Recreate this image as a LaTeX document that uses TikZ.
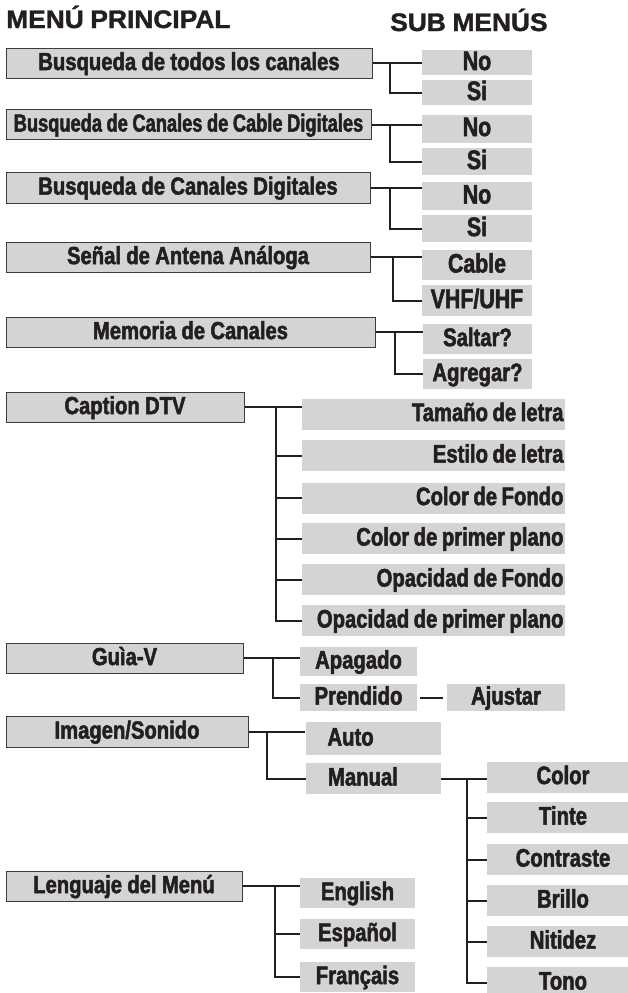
\documentclass[tikz,border=0pt]{standalone}
\usepackage{fontspec}
\newfontfamily\headfont{Liberation Sans}[FakeStretch=1.04, FakeBold=1.4, WordSpace=0.9]
\newfontfamily\menufont{Liberation Sans}[FakeStretch=0.82, FakeBold=2, WordSpace=0.95]
\newfontfamily\tightfont{Liberation Sans}[FakeStretch=0.74, FakeBold=2, WordSpace=0.9]
\newfontfamily\subfont{Liberation Sans}[FakeStretch=0.80, FakeBold=2, WordSpace=0.8]
\definecolor{boxgray}{HTML}{D4D4D6}
\definecolor{edgegray}{HTML}{3C3C3C}
\definecolor{ink}{HTML}{231F20}
\tikzset{
  head/.style={text=ink, inner sep=0pt, font=\headfont\bfseries\fontsize{19}{19}\selectfont},
  mainbox/.style={draw=edgegray, line width=0.75pt, fill=boxgray, inner sep=0pt,
    minimum height=22.5pt, text height=13.2pt, text depth=2.6pt, text=ink,
    font=\menufont\bfseries\fontsize{18.5}{18.5}\selectfont},
  subbox/.style={fill=boxgray, inner sep=0pt, text height=13.6pt, text depth=3pt, text=ink,
    font=\subfont\bfseries\fontsize{19}{19}\selectfont},
  bigsub/.style={subbox, text height=14.3pt, font=\subfont\bfseries\fontsize{20}{20}\selectfont},
  capbox/.style={subbox, inner xsep=1.1pt,
    execute at begin node={\hbox to 195pt\bgroup\hfil}, execute at end node={\egroup}},
  leftsub/.style={subbox, inner xsep=16.5pt,
    execute at begin node={\hbox to 68.25pt\bgroup}, execute at end node={\hfil\egroup}},
  wd/.style={minimum width=#1*0.75pt},
  ht/.style={minimum height=#1*0.75pt},
  link/.style={draw=ink, line width=1.5pt},
}
\begin{document}
\begin{tikzpicture}[x=0.75pt, y=-0.75pt]
\clip (0,0) rectangle (628,993);

\node[head, anchor=base west] (menuhead) at (6,28) {MENÚ PRINCIPAL};
\node[head, anchor=base west] (subhead) at (390,31) {SUB MENÚS};

\node[mainbox, wd=366] (todos) at (189,63) {Busqueda de todos los canales};
\node[bigsub, wd=110, ht=25] (todosno) at (477,62.5) {No};
\node[bigsub, wd=110, ht=25] (todossi) at (477,92.5) {Si};
\coordinate (t1) at (390,0);
\draw[link] (todos.east) -- (todos.east -| todosno.west);
\draw[link] (t1 |- todos.east) |- (todossi.west);

\node[mainbox, wd=365, font=\tightfont\bfseries\fontsize{18.5}{18.5}\selectfont] (cable) at (188.5,124.5) {Busqueda de Canales de Cable Digitales};
\node[bigsub, wd=110, ht=28] (cableno) at (477,128.5) {No};
\node[bigsub, wd=110, ht=27] (cablesi) at (477,161.5) {Si};
\coordinate (t2) at (390,0);
\draw[link] (cable.east) -- (cable.east -| cableno.west);
\draw[link] (t2 |- cable.east) |- (cablesi.west);

\node[mainbox, wd=364, ht=31] (digital) at (188,187.5) {Busqueda de Canales Digitales};
\node[bigsub, wd=110, ht=28] (digitalno) at (477,196) {No};
\node[bigsub, wd=110, ht=27] (digitalsi) at (477,228.5) {Si};
\coordinate (t3) at (390,0);
\draw[link] (digital.east) -- (digital.east -| digitalno.west);
\draw[link] (t3 |- digital.east) |- (digitalsi.west);

\node[mainbox, wd=364] (antena) at (188,257) {Señal de Antena Análoga};
\node[bigsub, wd=110, ht=30] (antcable) at (477,265) {Cable};
\node[bigsub, wd=110, ht=31] (antvhf) at (477,300.5) {VHF/UHF};
\coordinate (t4) at (393,0);
\draw[link] (antena.east) -- (antena.east -| antcable.west);
\draw[link] (t4 |- antena.east) |- (antvhf.west);

\node[mainbox, wd=369] (memoria) at (190.5,332) {Memoria de Canales};
\node[subbox, wd=109, ht=30] (saltar) at (477.5,339) {Saltar?};
\node[subbox, wd=109, ht=30] (agregar) at (477.5,374) {Agregar?};
\coordinate (t5) at (395,0);
\draw[link] (memoria.east) -- (memoria.east -| saltar.west);
\draw[link] (t5 |- memoria.east) |- (agregar.west);

\node[mainbox, wd=238] (caption) at (125,407) {Caption DTV};
\node[capbox, ht=31] (tamano) at (433.5,414) {Tamaño de letra};
\node[capbox, ht=31] (estilo) at (433.5,455.5) {Estilo de letra};
\node[capbox, ht=31] (fondo) at (433.5,498) {Color de Fondo};
\node[capbox, ht=31] (primer) at (433.5,538.5) {Color de primer plano};
\node[capbox, ht=31] (opfondo) at (433.5,579.5) {Opacidad de Fondo};
\node[capbox, ht=31] (opprimer) at (433.5,620.5) {Opacidad de primer plano};
\coordinate (t6) at (276,0);
\draw[link] (caption.east) -- (caption.east -| tamano.west);
\draw[link] (t6 |- caption.east) |- (opprimer.west);
\foreach \s in {estilo,fondo,primer,opfondo}
  \draw[link] (t6 |- \s.west) -- (\s.west);

\node[mainbox, wd=237] (guia) at (124.5,658) {Guìa-V};
\node[subbox, wd=117, ht=29] (apagado) at (358.5,661.5) {Apagado};
\node[subbox, wd=117, ht=27] (prendido) at (358.5,697.5) {Prendido};
\node[subbox, wd=118, ht=27] (ajustar) at (506,697.5) {Ajustar};
\coordinate (t7) at (273,0);
\draw[link] (guia.east) -- (guia.east -| apagado.west);
\draw[link] (t7 |- guia.east) |- (prendido.west);
\draw[link, shorten <=2pt, shorten >=3pt] (prendido) -- (ajustar);

\node[mainbox, wd=242, ht=31] (imagen) at (127,731.5) {Imagen/Sonido};
\node[leftsub, ht=33] (auto) at (373,738.5) {Auto};
\node[leftsub, ht=31] (manual) at (373.5,778.5) {Manual};
\coordinate (t8) at (267,0);
\draw[link] (imagen.east) -- (imagen.east -| auto.west);
\draw[link] (t8 |- imagen.east) |- (manual.west);

\node[subbox, wd=152, ht=31] (color) at (563,777) {Color};
\node[subbox, wd=152, ht=31] (tinte) at (563,817.5) {Tinte};
\node[subbox, wd=152, ht=31] (contraste) at (563,859.5) {Contraste};
\node[subbox, wd=152, ht=31] (brillo) at (563,900.5) {Brillo};
\node[subbox, wd=152, ht=31] (nitidez) at (563,941.5) {Nitidez};
\node[subbox, wd=152, ht=31] (tono) at (563,982.5) {Tono};
\coordinate (t9) at (467,0);
\draw[link] (manual.east) -- (manual.east -| color.west);
\draw[link] (t9 |- manual.east) |- (tono.west);
\foreach \s in {tinte,contraste,brillo,nitidez}
  \draw[link] (t9 |- \s.west) -- (\s.west);

\node[mainbox, wd=236] (lenguaje) at (124,886) {Lenguaje del Menú};
\node[subbox, wd=115, ht=30] (english) at (357.5,893) {English};
\node[subbox, wd=115, ht=30] (espanol) at (357.5,934) {Español};
\node[subbox, wd=115, ht=30] (francais) at (357.5,977) {Français};
\coordinate (t10) at (275,0);
\draw[link] (lenguaje.east) -- (lenguaje.east -| english.west);
\draw[link] (t10 |- lenguaje.east) |- (francais.west);
\draw[link] (t10 |- espanol.west) -- (espanol.west);
\end{tikzpicture}
\end{document}
